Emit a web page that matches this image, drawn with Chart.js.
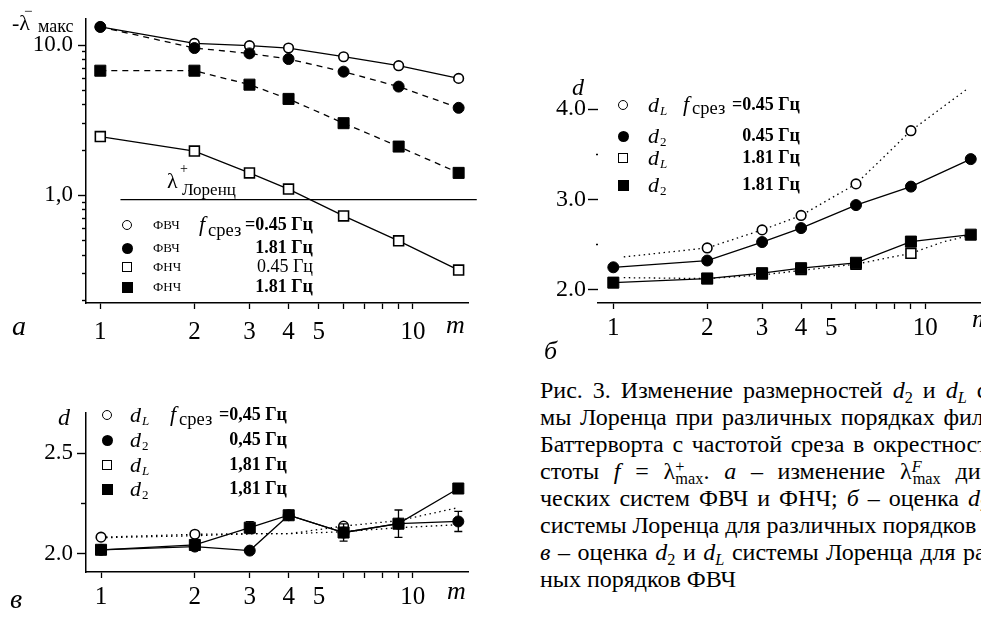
<!DOCTYPE html>
<html><head><meta charset="utf-8">
<script src="https://cdn.jsdelivr.net/npm/chart.js@4.4.1/dist/chart.umd.min.js"></script>
<style>
html,body{margin:0;padding:0;background:#fff;}
body{width:981px;height:617px;overflow:hidden;position:relative;font-family:"Liberation Serif","DejaVu Serif",serif;color:#000}
.box{position:absolute}
canvas{display:block}
.t{position:absolute;white-space:nowrap;line-height:1;z-index:2}
.i{font-style:italic}
.b{font-weight:bold}
.s{position:absolute;box-sizing:border-box;z-index:2}
.oc{width:10px;height:10px;border:1.6px solid #000;border-radius:50%;background:#fff}
.fc{width:11px;height:11px;border-radius:50%;background:#000}
.os{width:10px;height:10px;border:1.6px solid #000;background:#fff}
.fs{width:11px;height:11px;background:#000}
.cap{position:absolute;left:540px;width:500px;font-size:24px;line-height:1;white-space:nowrap;text-align:justify;text-align-last:justify;z-index:2}
.cap sub{font-size:0.68em;vertical-align:-0.28em;line-height:0}
.cap sup{font-size:0.68em;vertical-align:0.45em;line-height:0}
.cap .sb{margin-left:-0.55em}
</style>
</head><body>

<div class="box" style="left:0;top:0"><canvas id="ca" width="490" height="360"></canvas></div>
<div class="box" style="left:500px;top:60px"><canvas id="cb" width="500" height="310"></canvas></div>
<div class="box" style="left:0;top:395px"><canvas id="cc" width="490" height="222"></canvas></div>

<!-- chart а texts -->
<div class="t" style="left:12px;top:12px;font-size:22px">-λ</div>
<div class="t" style="left:24px;top:4px;font-size:15px">−</div>
<div class="t" style="left:38px;top:17px;font-size:18px">макс</div>
<div class="t" style="left:167px;top:170px;font-size:22px">λ</div>
<div class="t" style="left:180px;top:162px;font-size:14px">+</div>
<div class="t" style="left:182px;top:181px;font-size:17px">Лоренц</div>
<div class="t i" style="left:446px;top:312px;font-size:26px">m</div>
<div class="t i" style="left:12px;top:312px;font-size:28px">а</div>

<div class="s oc" style="left:122px;top:220px"></div>
<div class="s fc" style="left:121.5px;top:242.5px"></div>
<div class="s os" style="left:122px;top:262px"></div>
<div class="s fs" style="left:121.5px;top:281.5px"></div>
<div class="t" style="left:153px;top:218px;font-size:13px">ФВЧ</div>
<div class="t" style="left:153px;top:241px;font-size:13px">ФВЧ</div>
<div class="t" style="left:153px;top:260px;font-size:13px">ФНЧ</div>
<div class="t" style="left:153px;top:280px;font-size:13px">ФНЧ</div>
<div class="t i" style="left:199px;top:213px;font-size:22px">f</div>
<div class="t" style="left:208px;top:221px;font-size:18.5px">срез</div>
<div class="t b" style="right:668px;top:215px;font-size:18px">=0.45 Гц</div>
<div class="t b" style="right:668px;top:238px;font-size:18px">1.81 Гц</div>
<div class="t" style="right:668px;top:257px;font-size:18px">0.45 Гц</div>
<div class="t b" style="right:668px;top:277px;font-size:18px">1.81 Гц</div>

<!-- chart б texts -->
<div class="t i" style="left:572px;top:75px;font-size:24px">d</div>
<div class="t i" style="left:972px;top:306px;font-size:26px">m</div>
<div class="t i" style="left:544px;top:338px;font-size:26px">б</div>
<div class="s oc" style="left:618px;top:100px"></div>
<div class="s fc" style="left:617.5px;top:130.5px"></div>
<div class="s os" style="left:618px;top:153px"></div>
<div class="s fs" style="left:617.5px;top:179.5px"></div>
<div class="t i" style="left:648px;top:94px;font-size:22px">d</div><div class="t i" style="left:660px;top:104px;font-size:13px">L</div>
<div class="t i" style="left:648px;top:125px;font-size:22px">d</div><div class="t" style="left:660px;top:135px;font-size:13px">2</div>
<div class="t i" style="left:648px;top:147px;font-size:22px">d</div><div class="t i" style="left:660px;top:157px;font-size:13px">L</div>
<div class="t i" style="left:648px;top:174px;font-size:22px">d</div><div class="t" style="left:660px;top:184px;font-size:13px">2</div>
<div class="t i" style="left:683px;top:93px;font-size:22px">f</div>
<div class="t" style="left:692px;top:99px;font-size:18.5px">срез</div>
<div class="t b" style="right:181px;top:95px;font-size:18px">=0.45 Гц</div>
<div class="t b" style="right:181px;top:126px;font-size:18px">0.45 Гц</div>
<div class="t b" style="right:181px;top:148px;font-size:18px">1.81 Гц</div>
<div class="t b" style="right:181px;top:175px;font-size:18px">1.81 Гц</div>

<!-- chart в texts -->
<div class="t i" style="left:58px;top:405px;font-size:24px">d</div>
<div class="t i" style="left:447px;top:578px;font-size:26px">m</div>
<div class="t i" style="left:10px;top:585px;font-size:28px">в</div>
<div class="s oc" style="left:102px;top:410px"></div>
<div class="s fc" style="left:101.5px;top:434.5px"></div>
<div class="s os" style="left:102px;top:460px"></div>
<div class="s fs" style="left:101.5px;top:483.5px"></div>
<div class="t i" style="left:130px;top:404px;font-size:22px">d</div><div class="t i" style="left:142px;top:414px;font-size:13px">L</div>
<div class="t i" style="left:130px;top:429px;font-size:22px">d</div><div class="t" style="left:142px;top:439px;font-size:13px">2</div>
<div class="t i" style="left:130px;top:454px;font-size:22px">d</div><div class="t i" style="left:142px;top:464px;font-size:13px">L</div>
<div class="t i" style="left:130px;top:478px;font-size:22px">d</div><div class="t" style="left:142px;top:488px;font-size:13px">2</div>
<div class="t i" style="left:170px;top:403px;font-size:22px">f</div>
<div class="t" style="left:179px;top:410px;font-size:18.5px">срез</div>
<div class="t b" style="right:694px;top:405px;font-size:18px">=0,45 Гц</div>
<div class="t b" style="right:694px;top:430px;font-size:18px">0,45 Гц</div>
<div class="t b" style="right:694px;top:455px;font-size:18px">1,81 Гц</div>
<div class="t b" style="right:694px;top:479px;font-size:18px">1,81 Гц</div>

<!-- caption -->
<div class="cap" style="top:378px">Рис. 3. Изменение размерностей <i>d</i><sub>2</sub> и <i>d<sub>L</sub></i> систе-</div>
<div class="cap" style="top:405px">мы Лоренца при различных порядках фильтров</div>
<div class="cap" style="top:432px">Баттерворта с частотой среза в окрестности ча-</div>
<div class="cap" style="top:459px">стоты <i>f</i> = λ<sup>+</sup><sub class="sb">max</sub>. <i>а</i> – изменение λ<sup><i>F</i></sup><sub class="sb">max</sub> динами-</div>
<div class="cap" style="top:486px">ческих систем ФВЧ и ФНЧ; <i>б</i> – оценка <i>d</i><sub>2</sub> и <i>d<sub>L</sub></i></div>
<div class="cap" style="top:513px">системы Лоренца для различных порядков ФНЧ;</div>
<div class="cap" style="top:540px"><i>в</i> – оценка <i>d</i><sub>2</sub> и <i>d<sub>L</sub></i> системы Лоренца для различ-</div>
<div class="cap" style="top:567px;text-align:left;text-align-last:left">ных порядков ФВЧ</div>

<script>
// ---------- data ----------
const M = [1, 2, 3, 4, 6, 9, 14];

// (а) -λ⁻макс, log scale
const A_HPF_045 = [13.2, 10.25, 9.9, 9.55, 8.36, 7.29, 6.0];   // ○ ФВЧ 0.45 Гц
const A_HPF_181 = [13.2, 9.55, 8.8, 8.07, 6.65, 5.29, 3.82];   // ● ФВЧ 1.81 Гц
const A_LPF_045 = [2.46, 1.97, 1.41, 1.10, 0.729, 0.498, 0.318]; // □ ФНЧ 0.45 Гц
const A_LPF_181 = [6.75, 6.75, 5.45, 4.38, 3.02, 2.11, 1.41];  // ■ ФНЧ 1.81 Гц
const A_LORENZ_M = [1.16, 16];
const A_LORENZ = [0.936, 0.936];
const A_X_TICKS = [1, 2, 3, 4, 5, 6, 7, 8, 9, 10];
const A_X_LABELS = ['1', '2', '3', '4', '5', '', '', '', '', '10'];
const A_Y_TICKS = [0.2, 0.3, 0.4, 0.5, 0.6, 0.7, 0.8, 0.9, 1, 2, 3, 4, 5, 6, 7, 8, 9, 10];
const A_Y_LABELS = ['', '', '', '', '', '', '', '', '1,0', '', '', '', '', '', '', '', '', '10.0'];

// (б) d, ФНЧ
const B_D2_045 = [2.245, 2.32, 2.525, 2.68, 2.935, 3.14, 3.445];   // ●
const B_D2_181 = [2.075, 2.12, 2.18, 2.235, 2.295, 2.53, 2.607];   // ■
const B_DL_045 = [null, 2.46, 2.66, 2.82, 3.17, 3.76, null];       // ○ markers
const B_DL_181 = [null, 2.12, 2.17, 2.22, 2.28, 2.40, null];       // □ markers
const B_FIT_M = [1.08, 2, 3, 4, 6, 9, 13.6];
const B_FIT_045 = [2.36, 2.46, 2.66, 2.82, 3.17, 3.76, 4.22];      // dotted
const B_FIT_M2 = [1.08, 2, 3, 4, 6, 9, 11.5, 14];
const B_FIT_181 = [2.13, 2.12, 2.16, 2.21, 2.28, 2.40, 2.53, 2.6]; // dotted
const B_X_TICKS = [1, 2, 3, 4, 5, 6, 7, 8, 9, 10];
const B_X_LABELS = ['1', '2', '3', '4', '5', '', '', '', '', '10'];
const B_Y_TICKS = [2, 2.5, 3, 3.5, 4];
const B_Y_LABELS = ['2.0', '', '3.0', '', '4.0'];

// (в) d, ФВЧ
const C_D2_181 = [2.02, 2.044, 2.13, 2.192, 2.106, 2.15, 2.325];   // ■
const C_D2_181_ERR = [0, 0, 0.03, 0, 0.043, 0.068, 0.015];
const C_D2_045 = [2.02, 2.036, 2.016, 2.192, 2.106, 2.15, 2.161];  // ●
const C_D2_045_ERR = [0, 0, 0, 0, 0, 0, 0.05];
const C_DL_045 = [2.083, 2.097, null, null, 2.138, null, null];    // ○ markers
const C_FIT_045 = [2.083, 2.097, 2.10, 2.10, 2.138, 2.165, 2.23];  // dotted
const C_FIT_181 = [2.08, 2.09, 2.10, 2.10, 2.11, 2.13, 2.145];     // dotted
const C_X_TICKS = [1, 2, 3, 4, 5, 6, 7, 8, 9, 10];
const C_X_LABELS = ['1', '2', '3', '4', '5', '', '', '', '', '10'];
const C_Y_TICKS = [2, 2.25, 2.5];
const C_Y_LABELS = ['2.0', '', '2.5'];

// ---------- helpers ----------
const SERIF = '"Liberation Serif","DejaVu Serif",serif';
const pts = (xs, ys) => xs.map((x, i) => ({x, y: ys[i]})).filter(p => p.y !== null && p.y !== undefined);

const base = {borderColor: '#000', backgroundColor: '#000', borderWidth: 1.3, pointRadius: 0,
  pointHoverRadius: 0, fill: false, tension: 0, showLine: true};
const OPEN_C = {pointStyle: 'circle', pointRadius: 4.8, pointBackgroundColor: '#fff', pointBorderColor: '#000', pointBorderWidth: 1.6};
const FILL_C = {pointStyle: 'circle', pointRadius: 5.5, pointBackgroundColor: '#000', pointBorderColor: '#000', pointBorderWidth: 1};
const OPEN_S = {pointStyle: 'rect', pointRadius: 7, pointBackgroundColor: '#fff', pointBorderColor: '#000', pointBorderWidth: 1.6};
const FILL_S = {pointStyle: 'rect', pointRadius: 7.8, pointBackgroundColor: '#000', pointBorderColor: '#000', pointBorderWidth: 1};
const DASH = {borderDash: [6, 5]};
const DOT = {borderDash: [1.5, 3.5], borderWidth: 1.3};
const ds = (data, ...o) => Object.assign({data}, base, ...o);

function minorTick(labels, len, d) {
  const g = 40, P = d + g, s = len - d;
  return {
    tickBorderDash: c => labels[c.index] === '' ? [d, g] : [],
    tickBorderDashOffset: c => labels[c.index] === '' ? (P - s) : 0
  };
}

function xAxis(type, min, max, ticks, labels, height, pad) {
  return {
    type, min, max, position: 'bottom',
    afterBuildTicks: s => { s.ticks = ticks.map(v => ({value: v})); },
    afterFit: s => { s.height = height; },
    ticks: {callback: (v, i) => labels[i], autoSkip: false, maxRotation: 0, minRotation: 0,
      font: {family: SERIF, size: 25}, color: '#000', padding: pad},
    grid: {display: true, drawOnChartArea: false, drawTicks: true, tickLength: 6, tickColor: '#000', tickWidth: 1.3},
    border: {display: true, color: '#000', width: 1.5}
  };
}
function yAxis(type, min, max, ticks, labels, width, tl, pad, minorLen, showBorder, fontSize) {
  return {
    type, min, max, position: 'left',
    afterBuildTicks: s => { s.ticks = ticks.map(v => ({value: v})); },
    afterFit: s => { s.width = width; },
    ticks: {callback: (v, i) => labels[i], autoSkip: false, maxRotation: 0,
      font: {family: SERIF, size: fontSize}, color: '#000', padding: pad},
    grid: Object.assign({display: true, drawOnChartArea: false, drawTicks: true, tickLength: tl,
      tickColor: '#000', tickWidth: 1.4}, minorTick(labels, tl, minorLen)),
    border: {display: showBorder, color: '#000', width: 1.5}
  };
}

const errorBars = {
  id: 'errorBars',
  afterDatasetsDraw(chart) {
    const {ctx, scales: {x, y}} = chart;
    chart.data.datasets.forEach(d => {
      if (!d.errorBars) return;
      ctx.save();
      ctx.strokeStyle = '#000'; ctx.lineWidth = 1.3;
      d.data.forEach((p, i) => {
        const e = d.errorBars[i];
        if (!e) return;
        const px = x.getPixelForValue(p.x), t = y.getPixelForValue(p.y + e), b = y.getPixelForValue(p.y - e);
        ctx.beginPath();
        ctx.moveTo(px, t); ctx.lineTo(px, b);
        ctx.moveTo(px - 4, t); ctx.lineTo(px + 4, t);
        ctx.moveTo(px - 4, b); ctx.lineTo(px + 4, b);
        ctx.stroke();
      });
      ctx.restore();
    });
  }
};

const common = {responsive: false, animation: false, devicePixelRatio: 1,
  plugins: {legend: {display: false}, tooltip: {enabled: false}}, events: []};

// ---------- chart а ----------
new Chart(document.getElementById('ca'), {
  type: 'scatter',
  data: {datasets: [
    ds(pts(M, A_HPF_181), FILL_C, DASH),
    ds(pts(M, A_LPF_181), FILL_S, DASH),
    ds(pts(M, A_HPF_045), OPEN_C),
    ds(pts(M, A_LPF_045), OPEN_S),
    ds(pts(A_LORENZ_M, A_LORENZ), {clip: false, borderWidth: 1.2})
  ]},
  options: Object.assign({}, common, {
    layout: {padding: {top: 18, right: 22, left: 0, bottom: 0}},
    scales: {
      x: xAxis('logarithmic', 0.9, 15, A_X_TICKS, A_X_LABELS, 57, 8),
      y: yAxis('logarithmic', 0.192, 14.95, A_Y_TICKS, A_Y_LABELS, 86, 8, 5, 4, true, 23)
    }
  })
});

// ---------- chart б ----------
new Chart(document.getElementById('cb'), {
  type: 'scatter',
  data: {datasets: [
    ds(pts(M, B_D2_045), FILL_C),
    ds(pts(M, B_D2_181), FILL_S),
    ds(pts(M, B_DL_045), OPEN_C, {showLine: false}),
    ds(pts(M, B_DL_181), OPEN_S, {showLine: false}),
    ds(pts(B_FIT_M, B_FIT_045), DOT),
    ds(pts(B_FIT_M2, B_FIT_181), DOT)
  ]},
  options: Object.assign({}, common, {
    layout: {padding: {top: 10, right: 19, left: 0, bottom: 0}},
    scales: {
      x: xAxis('logarithmic', 0.893, 15.1, B_X_TICKS, B_X_LABELS, 67, 4),
      y: yAxis('linear', 1.849, 4.3625, B_Y_TICKS, B_Y_LABELS, 98, 10, 2, 2, false, 24)
    }
  })
});

// ---------- chart в ----------
new Chart(document.getElementById('cc'), {
  type: 'scatter',
  data: {datasets: [
    ds(pts(M, C_D2_181), FILL_S, {errorBars: C_D2_181_ERR}),
    ds(pts(M, C_D2_045), FILL_C, {errorBars: C_D2_045_ERR}),
    ds(pts(M, C_DL_045), OPEN_C, {showLine: false}),
    ds(pts(M, C_FIT_045), DOT),
    ds(pts(M, C_FIT_181), DOT)
  ]},
  options: Object.assign({}, common, {
    layout: {padding: {top: 8, right: 22, left: 0, bottom: 0}},
    scales: {
      x: xAxis('logarithmic', 0.895, 15.04, C_X_TICKS, C_X_LABELS, 45, 4),
      y: yAxis('linear', 1.9095, 2.7018, C_Y_TICKS, C_Y_LABELS, 86, 9, 4, 5, true, 23)
    }
  }),
  plugins: [errorBars]
});
</script>
</body></html>
